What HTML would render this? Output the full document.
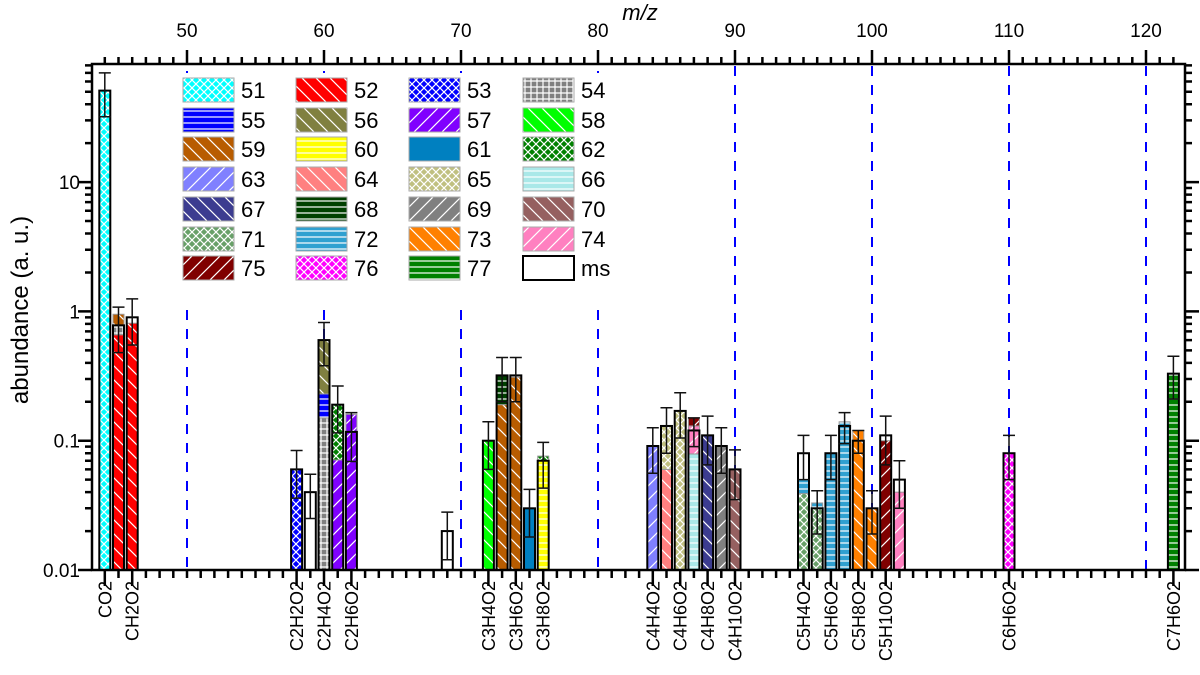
<!DOCTYPE html>
<html><head><meta charset="utf-8"><style>
body{margin:0;background:#fff}
svg{display:block;font-family:"Liberation Sans",Arial,sans-serif}
</style></head><body>
<svg id="chart" width="1200" height="675" viewBox="0 0 1200 675" xmlns="http://www.w3.org/2000/svg">
<defs id="defs"></defs>
<g id="grid"></g><g id="bars"></g><g id="legend"></g><g id="axes"></g>
</svg>
<script>
// ---- data ----
const barMz = [44,45,46,58,59,60,61,62,69,72,73,74,75,76,84,85,86,87,88,89,90,95,96,97,98,99,100,101,102,110,122];
const segKeys = [[51],[52,54,59],[52],[53],[],[54,55,56],[57,62],[57],[],[58],[59,68],[59],[61],[60,62],[63],[64,65],[65],[66,74,75],[67],[69],[70],[71,72],[71,72],[72],[72],[73],[73],[75],[74],[76],[77]];
const segTops = [[51],[0.66,0.78,0.95],[0.81],[0.06],[],[0.15,0.23,0.6],[0.071,0.19],[0.16],[],[0.1],[0.19,0.32],[0.31],[0.03],[0.07,0.076],[0.091],[0.06,0.13],[0.17],[0.079,0.13,0.15],[0.11],[0.091],[0.06],[0.039,0.05],[0.03,0.033],[0.08],[0.14],[0.12],[0.03],[0.1],[0.04],[0.08],[0.33]];
const msVal = [51,0.78,0.9,0.06,0.04,0.6,0.19,0.117,0.02,0.1,0.32,0.32,0.03,0.07,0.091,0.13,0.17,0.12,0.11,0.091,0.06,0.08,0.03,0.08,0.13,0.1,0.03,0.11,0.05,0.08,0.33];
const msErr = [19,0.3,0.35,0.024,0.015,0.22,0.075,0.048,0.008,0.04,0.12,0.12,0.012,0.027,0.035,0.05,0.065,0.03,0.045,0.035,0.025,0.03,0.011,0.03,0.035,0.02,0.011,0.045,0.02,0.03,0.12];
const compoundNames = ["CO2","CH2O2","C2H2O2","C2H4O2","C2H6O2","C3H4O2","C3H6O2","C3H8O2","C4H4O2","C4H6O2","C4H8O2","C4H10O2","C5H4O2","C5H6O2","C5H8O2","C5H10O2","C6H6O2","C7H6O2"];
const compoundMz = [44,46,58,60,62,72,74,76,84,86,88,90,95,97,99,101,110,122];
const topTicks = [50,60,70,80,90,100,110,120];
const yTicks = [0.01,0.1,1,10];
const yTickLabels = ["0.01","0.1","1","10"];
const legendKeys = [51,52,53,54,55,56,57,58,59,60,61,62,63,64,65,66,67,68,69,70,71,72,73,74,75,76,77];
const dashedMz = [50,60,70,80,90,100,110,120];

const styles = {51:['#00ffff','cross'],52:['#ff0000','back'],53:['#0000ff','cross'],54:['#808080','grid'],55:['#0000ff','horiz'],56:['#808040','back'],57:['#8000ff','fwd'],58:['#00ff00','back'],59:['#b85c00','back'],60:['#ffff00','horiz'],61:['#0080c0','solid'],62:['#008000','cross'],63:['#8080ff','fwd'],64:['#ff8080','back'],65:['#c0c080','cross'],66:['#aae8e8','horiz'],67:['#3c3c90','back'],68:['#004000','horiz'],69:['#808080','fwd'],70:['#956060','back'],71:['#68a068','cross'],72:['#30a0d0','horiz'],73:['#ff8000','back'],74:['#ff80c0','fwd'],75:['#800000','fwd'],76:['#ff00ff','cross'],77:['#008000','horiz']};

const NS='http://www.w3.org/2000/svg';
const L=92,R=1185,T=64,B=570;
const x=m=>187+(m-50)*13.7;
const y=v=>B-(Math.log10(v)+2)*129.3;
function el(tag,attrs,parent){const e=document.createElementNS(NS,tag);for(const k in attrs)e.setAttribute(k,attrs[k]);parent.appendChild(e);return e;}
const defs=document.getElementById('defs');
for(const k in styles){
  const [c,t]=styles[k];
  const s=t==='cross'?8:(t==='horiz'||t==='grid'?6:14);
  const p=el('pattern',{id:'p'+k,patternUnits:'userSpaceOnUse',width:s,height:s},defs);
  el('rect',{x:0,y:0,width:s,height:s,fill:c},p);
  const st={stroke:'#fff','stroke-width':1.2,fill:'none'};
  if(t==='cross'){el('path',Object.assign({d:'M0 0L8 8M8 0L0 8'},st),p);}
  else if(t==='back'){el('path',Object.assign({d:'M0 0L14 14M-7 7L7 21M7 -7L21 7'},st),p);}
  else if(t==='fwd'){el('path',Object.assign({d:'M0 14L14 0M-7 7L7 -7M7 21L21 7'},st),p);}
  else if(t==='horiz'){el('path',Object.assign({d:'M0 3L6 3'},st),p);}
  else if(t==='grid'){el('path',Object.assign({d:'M0 3L6 3M3 0L3 6'},st),p);}
}
// dashed lines
const g=document.getElementById('grid');
dashedMz.forEach(m=>{
  const ln=el('line',{x1:x(m),x2:x(m),y1:m<=80?310:66,y2:B,stroke:'#0000ff','stroke-width':2,'stroke-dasharray':'10,9'},g);
  
  
  if(m<=80){el('rect',{x:x(m)-1,y:71,width:2,height:2,fill:'#0000ff'},g);}
});
// bars
const bg=document.getElementById('bars');
const bw=11;
barMz.forEach((m,i)=>{
  const grp=el('g',{},bg);
  
  
  let base=B;
  segKeys[i].forEach((k,j)=>{
    const top=y(segTops[i][j]);
    const r=el('rect',{x:x(m)-bw/2,y:top,width:bw,height:base-top,fill:'url(#p'+k+')',stroke:'#999','stroke-width':1},grp);
    
    
    base=top;
  });
  const mt=y(msVal[i]);
  const ms=el('rect',{x:x(m)-bw/2,y:mt,width:bw,height:B-mt,fill:'none',stroke:'#000','stroke-width':2},grp);
  
  
  const hi=y(msVal[i]+msErr[i]), lo=y(Math.max(msVal[i]-msErr[i],0.0101));
  el('path',{d:`M${x(m)} ${hi}L${x(m)} ${lo}M${x(m)-6} ${hi}L${x(m)+6} ${hi}M${x(m)-6} ${lo}L${x(m)+6} ${lo}`,stroke:'#111','stroke-width':1.5,fill:'none'},grp);
});
// legend
const lg=document.getElementById('legend');
el('rect',{x:176,y:74,width:428,height:218,fill:'#fff'},lg);
const colX=[183,296,409,523], rowY=[78,108,137,167,197,227,256];
legendKeys.concat(['ms']).forEach((k,i)=>{
  const cx=colX[i%4], ry=rowY[Math.floor(i/4)];
  const ent=el('g',{},lg);
  
  
  if(k==='ms') el('rect',{x:cx,y:ry,width:51,height:24,fill:'#fff',stroke:'#000','stroke-width':2},ent);
  else el('rect',{x:cx,y:ry,width:51,height:24,fill:'url(#p'+k+')',stroke:'#aaa','stroke-width':1},ent);
  const t=el('text',{x:cx+58,y:ry+20,'font-size':22,fill:'#000'},ent);t.textContent=k;
});
// axes
const ax=document.getElementById('axes');
const frame=el('rect',{x:L,y:T,width:R-L,height:B-T,fill:'none',stroke:'#000','stroke-width':2.5},ax);


let d='';
for(let m=44;m<=122;m++){
  const X=x(m);
  d+=`M${X} ${T}L${X} ${T-(m%10===0?14:7)}`;
  d+=`M${X} ${B}L${X} ${B+(compoundMz.includes(m)?16:8)}`;
}
for(let e=-2;e<=2;e++){for(let k=1;k<=9;k++){const v=k*Math.pow(10,e);const Y=y(v);if(Y<T-0.5||Y>B+0.5)continue;const len=k===1?14:7;d+=`M${L} ${Y}L${L-len} ${Y}M${R} ${Y}L${R+len} ${Y}`;}}
el('path',{d,stroke:'#000','stroke-width':2.5,fill:'none'},ax);
topTicks.forEach(m=>{const t=el('text',{x:x(m),y:37,'font-size':19,'text-anchor':'middle'},ax);t.textContent=m;
  
  });
yTicks.forEach((v,i)=>{const t=el('text',{x:80,y:y(v)+7,'font-size':19,'text-anchor':'end'},ax);t.textContent=yTickLabels[i];
  
  });
compoundMz.forEach((m,i)=>{const t=el('text',{x:0,y:0,'font-size':18,'text-anchor':'end',transform:`translate(${x(m)+6.5},581) rotate(-90)`},ax);t.textContent=compoundNames[i];
  
  });
const yt=el('text',{x:0,y:0,'font-size':24,'text-anchor':'middle',transform:'translate(28,310) rotate(-90)'},ax);yt.textContent='abundance (a. u.)';


const xt=el('text',{x:640,y:20,'font-size':22,'font-style':'italic','text-anchor':'middle'},ax);xt.textContent='m/z';


</script>
</body></html>
